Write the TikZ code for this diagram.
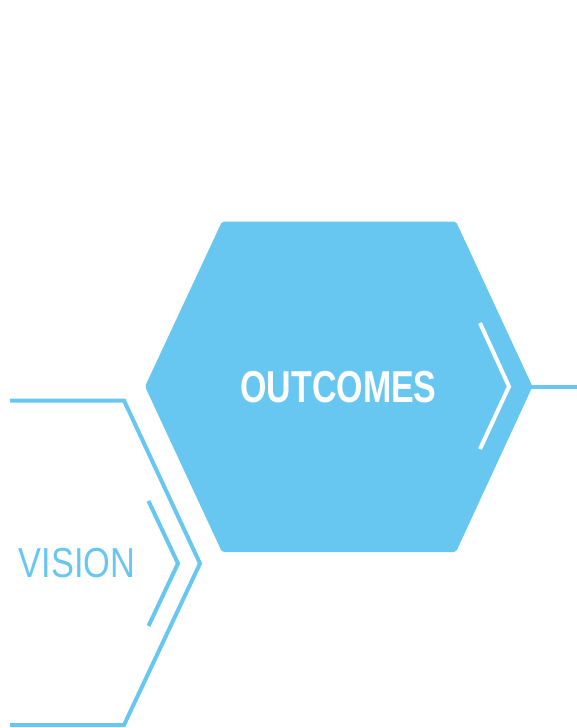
\documentclass[tikz,border=0pt]{standalone}
\usepackage{fontspec}
\usepackage{xcolor}
\newfontfamily\outcomesfont[FakeStretch=0.76]{Liberation Sans}
\newfontfamily\visionfont[FakeStretch=0.82]{Liberation Sans}
\definecolor{hexblue}{RGB}{104,199,241}

\begin{document}
\begin{tikzpicture}[x=1pt, y=-1pt]
		\def\lw{4};
		\useasboundingbox (0,0) rectangle (577,728);

		% filled hexagon
		\fill[hexblue, rounded corners=2pt] (222,221.5) -- (456,221.5) -- (532.5,386.5)
			-- (456,552) -- (222,552) -- (145,386.5) -- cycle;
		\coordinate (hexright) at (531,386.5);
		\coordinate (exit) at (577,386.5);

		\node (outcomes) at (338.5,387) [text=white, font=\outcomesfont\bfseries\fontsize{44.7}{50}\selectfont] {OUTCOMES};

		% open hexagon on the left
		\begin{scope}[hexblue, line width=\lw]
			\draw (10,400.5) -- (124,400.5) -- (200,563.5) -- (124,725) -- (10,725);
			\draw (148.5,501) -- (178,563.5) -- (148.5,626);
			\draw (hexright) -- (exit);
		\end{scope}

		\draw[white, line width=\lw] (480,323) -- (509,386.5) -- (480,449);

		\node (vision) at (77,563.5) [text=hexblue, font=\visionfont\fontsize{41.9}{48}\selectfont] {VISION};
	\end{tikzpicture}
\end{document}
